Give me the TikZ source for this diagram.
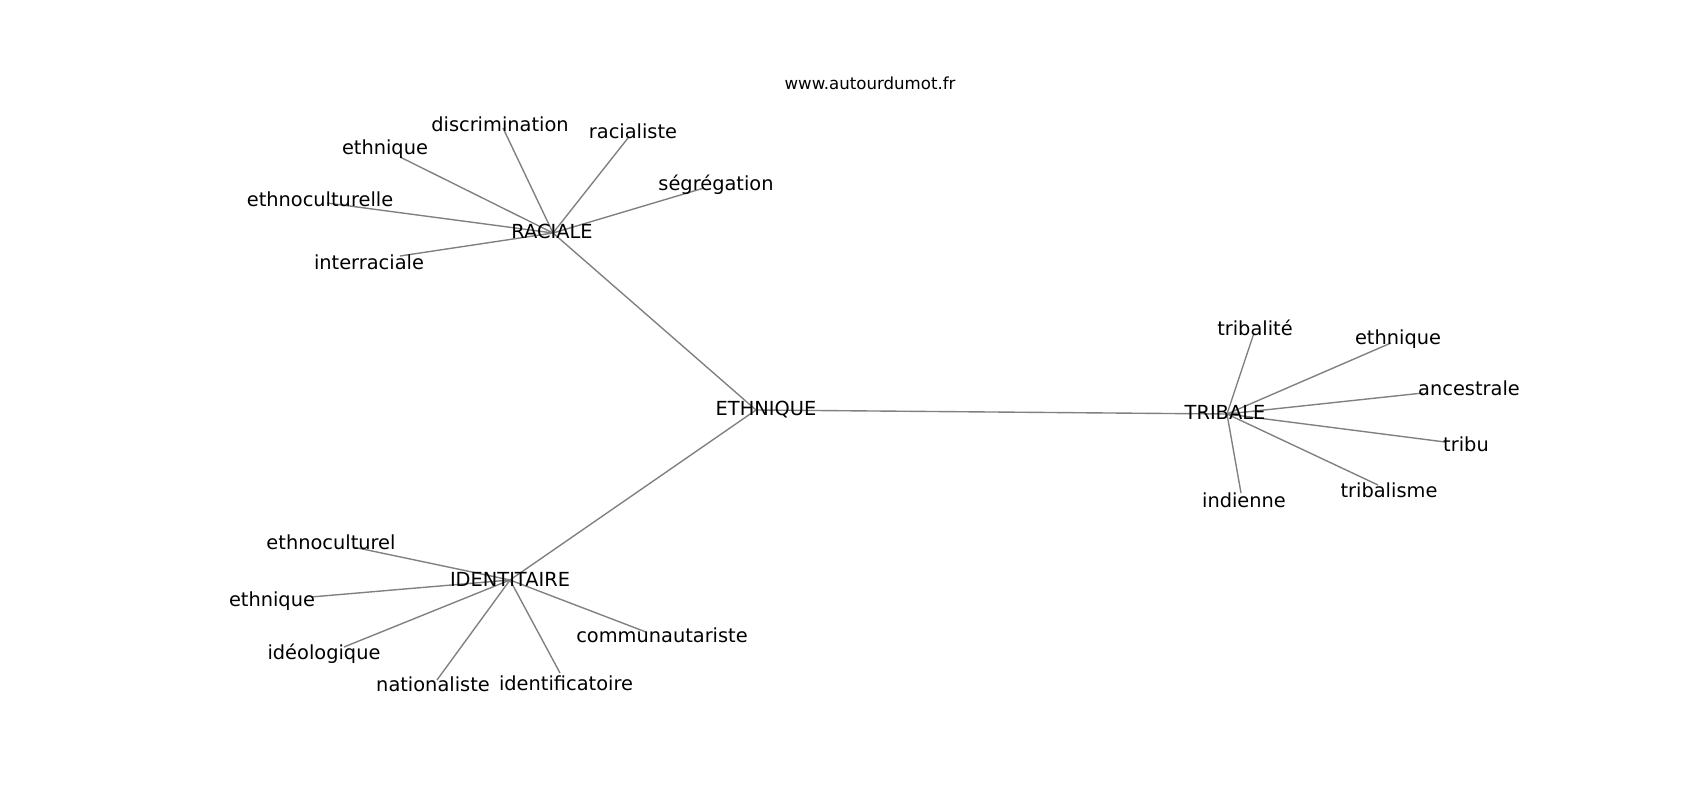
\documentclass[tikz,border=0pt]{standalone}
\usepackage{fontspec}
\setmainfont{DejaVu Sans}
\usetikzlibrary{backgrounds}

\begin{document}
\begin{tikzpicture}[x=0.01in, y=-0.01in,
    edge/.style={draw=black!50, line width=1pt},
    word/.style={inner sep=0pt, font=\fontsize{14}{17}\selectfont}]
    \useasboundingbox (0,0) rectangle (1700,800);
    % point of the graph, then its label
    \newcommand{\word}[4]{
        \coordinate (#1) at (#2);
        \node[word] (#1-lbl) at (#3) {#4};
    }
    \node[inner sep=0pt, font=\fontsize{12}{14}\selectfont] (site) at (870,83) {www.autourdumot.fr};

    \word{eth}{756,410}{766,410}{ETHNIQUE}
    \word{rac}{553,233}{552,231}{RACIALE}
    \word{ide}{510,580}{510,579}{IDENTITAIRE}
    \word{tri}{1227,414}{1225,412}{TRIBALE}

    % RACIALE
    \word{disc}{503,128}{500,124}{discrimination}
    \word{racl}{628,138}{633,131}{racialiste}
    \word{ethr}{400,157}{385,149}{ethnique}
    \word{segr}{704,188}{716,185}{ségrégation}
    \word{ecle}{327,203}{320,199}{ethnoculturelle}
    \word{intr}{400,256}{369,262}{interraciale}

    % IDENTITAIRE
    \word{ecul}{353,547}{331,542}{ethnoculturel}
    \word{ethi}{311,597}{272,601}{ethnique}
    \word{ideo}{344,647}{324,654}{idéologique}
    \word{natl}{437,680}{433,684}{nationaliste}
    \word{idfc}{560,673}{566,683}{identificatoire}
    \word{comm}{646,632}{662,635}{communautariste}

    % TRIBALE
    \word{trit}{1254,333}{1255,328}{tribalité}
    \word{etht}{1391,343}{1398,339}{ethnique}
    \word{ance}{1423,393}{1469,388}{ancestrale}
    \word{trbu}{1445,442}{1466,444}{tribu}
    \word{trbm}{1378,485}{1389,490}{tribalisme}
    \word{indi}{1241,493}{1244,500}{indienne}

    \begin{scope}[on background layer]
        \foreach \a/\b in {eth/rac, eth/ide, eth/tri,
                rac/disc, rac/racl, rac/ethr, rac/segr, rac/ecle, rac/intr,
                ide/ecul, ide/ethi, ide/ideo, ide/natl, ide/idfc, ide/comm,
                tri/trit, tri/etht, tri/ance, tri/trbu, tri/trbm, tri/indi}
            \draw[edge] (\a) -- (\b);
    \end{scope}
\end{tikzpicture}
\end{document}
